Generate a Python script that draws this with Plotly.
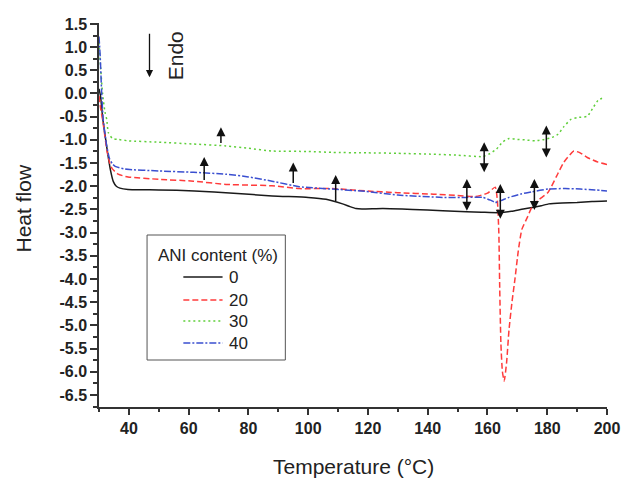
import plotly.graph_objects as go

# ---- DSC curves: heat flow vs temperature for different ANI contents ----
x_0 = [30, 30.5, 31.3, 32.7, 33.8, 34.8, 35.8, 37, 39.7, 50, 62, 75, 88, 100, 106, 111.5,
       114, 116, 118, 125, 135, 145, 153, 158, 164, 168, 172, 175, 178, 180.5, 185, 190, 195, 200]
y_0 = [0.1, -0.05, -0.56, -1.2, -1.64, -1.9, -2.0, -2.04, -2.07, -2.08, -2.10, -2.15, -2.21,
       -2.24, -2.28, -2.38, -2.44, -2.48, -2.49, -2.48, -2.5, -2.53, -2.55, -2.56, -2.57, -2.54,
       -2.49, -2.46, -2.42, -2.38, -2.36, -2.35, -2.33, -2.32]

x_20 = [30, 30.5, 31.3, 32.7, 33.6, 34.4, 36.4, 39.7, 50, 61.6, 72.5, 87.9, 97, 108, 119, 130,
        142, 150, 156, 160, 162.6, 163.3, 163.8, 164.1, 164.5, 165.0, 165.6, 166.4, 167.2,
        168.2, 169.2, 170.3, 171.5, 173.5, 174.8, 177, 180.3, 183, 185.6, 188.9, 191, 193.4,
        197, 200]
y_20 = [-0.05, -0.3, -0.6, -1.25, -1.5, -1.62, -1.74, -1.80, -1.85, -1.89, -1.96, -1.99, -2.05,
        -2.05, -2.10, -2.14, -2.17, -2.2, -2.22, -2.15, -2.02, -2.3, -3.0, -4.2, -5.4, -6.0,
        -6.2, -5.8, -5.1, -4.5, -4.0, -3.4, -2.93, -2.65, -2.46, -2.3, -2.13, -1.8, -1.48,
        -1.24, -1.28, -1.38, -1.48, -1.53]

x_30 = [30, 30.5, 31.2, 32.0, 32.6, 33.1, 34.5, 36.4, 39.7, 50, 61.6, 72.5, 80, 87.9, 100, 108,
        120, 130, 142, 150, 158.4, 160.7, 163, 165, 167.2, 170, 172.5, 176, 179, 181.5, 183.6,
        185.5, 187.9, 190, 193.4, 195.4, 197, 198.7]
y_30 = [1.1, 0.6, 0.0, -0.4, -0.56, -0.84, -0.97, -0.99, -1.02, -1.05, -1.09, -1.13, -1.18,
        -1.24, -1.25, -1.27, -1.28, -1.29, -1.31, -1.33, -1.36, -1.30, -1.2, -1.05, -0.97,
        -0.99, -1.0, -1.02, -0.99, -0.95, -0.88, -0.72, -0.56, -0.52, -0.49, -0.30, -0.15, -0.09]

x_40 = [30, 30.4, 30.9, 31.4, 32.5, 33.5, 34.5, 35.4, 38.7, 50, 61.6, 72.5, 80, 87.9, 97, 108,
        119, 130, 145, 152.8, 158.4, 161, 162.6, 164.5, 167.2, 171, 174.8, 180.3, 186, 191.1,
        196, 200]
y_40 = [1.23, 0.8, 0.0, -0.56, -1.1, -1.4, -1.52, -1.57, -1.63, -1.67, -1.70, -1.74, -1.8,
        -1.89, -2.01, -2.06, -2.11, -2.19, -2.24, -2.24, -2.24, -2.30, -2.35, -2.31, -2.24,
        -2.17, -2.12, -2.06, -2.05, -2.06, -2.08, -2.10]

series_names = ["0", "20", "30", "40"]
curve_tags = ["a", "b", "c", "d"]
tag_y = [-2.50, -1.57, -0.17, -2.13]

# transition markers: x, tail y, head y, double-headed?
arrow_x = [65.2, 70.8, 95.0, 109.2, 153.1, 158.9, 164.3, 175.7, 179.7]
arrow_y0 = [-1.90, -1.10, -1.96, -2.35, -1.81, -1.02, -1.92, -1.81, -0.66]
arrow_y1 = [-1.37, -0.73, -1.49, -1.76, -2.53, -1.70, -2.70, -2.51, -1.38]
arrow_double = [False, False, False, False, True, True, True, True, True]

y_tick_vals = [1.5, 1.0, 0.5, 0.0, -0.5, -1.0, -1.5, -2.0, -2.5, -3.0, -3.5, -4.0, -4.5,
               -5.0, -5.5, -6.0, -6.5]
y_tick_text = ["1.5", "1.0", "0.5", "0.0", "-0.5", "-1.0", "-1.5", "-2.0", "-2.5", "-3.0",
               "-3.5", "-4.0", "-4.5", "-5.0", "-5.5", "-6.0", "-6.5"]
x_tick_vals = [40, 60, 80, 100, 120, 140, 160, 180, 200]

styles = [
    dict(color="#1a1a1a", width=1.5, dash="solid"),
    dict(color="#ff3b3b", width=1.5, dash="6px,3px"),
    dict(color="#5fcf3a", width=1.5, dash="2px,3px"),
    dict(color="#3a4fd0", width=1.5, dash="7px,2px,2px,2px"),
]

W, H = 632, 478
L, R, T, B = 99, 15, 23, 71
PW, PH = W - L - R, H - T - B


def px(xp):
    return (xp - L) / PW


def py(yp):
    return (H - B - yp) / PH


fig = go.Figure()
for xs, ys, name, st in zip([x_0, x_20, x_30, x_40], [y_0, y_20, y_30, y_40], series_names, styles):
    fig.add_trace(go.Scatter(x=xs, y=ys, mode="lines", name=name, line=dict(**st, shape="spline",
                             smoothing=0.5), showlegend=False, hoverinfo="skip"))

font_main = "Liberation Sans, Arial, sans-serif"
annotations = []

# curve tags at the right edge
for tag, ty in zip(curve_tags, tag_y):
    annotations.append(dict(x=201, y=ty, xref="x", yref="y", text=tag, showarrow=False,
                            xanchor="left", yanchor="middle",
                            font=dict(family=font_main, size=17, color="#222", weight="bold")))

# transition arrows
for ax_, a0, a1, dbl in zip(arrow_x, arrow_y0, arrow_y1, arrow_double):
    annotations.append(dict(x=ax_, y=a1, ax=ax_, ay=a0, xref="x", yref="y", axref="x", ayref="y",
                            text="", showarrow=True, arrowhead=2, startarrowhead=2,
                            arrowsize=1.2, startarrowsize=1.2, arrowwidth=1.5,
                            arrowcolor="#111", arrowside="end+start" if dbl else "end"))

# endotherm direction
annotations.append(dict(x=46.9, y=0.35, ax=46.9, ay=1.32, xref="x", yref="y", axref="x",
                        ayref="y", text="", showarrow=True, arrowhead=2, arrowsize=1.1,
                        arrowwidth=1.3, arrowcolor="#111"))
annotations.append(dict(x=55.7, y=0.82, xref="x", yref="y", text="Endo", textangle=-90,
                        showarrow=False, xanchor="center", yanchor="middle",
                        font=dict(family=font_main, size=21, color="#222")))

# axis titles
annotations.append(dict(x=px(22), y=py(208), xref="paper", yref="paper", text="Heat flow",
                        textangle=-90, showarrow=False, xanchor="center", yanchor="middle",
                        font=dict(family=font_main, size=21, color="#222")))
annotations.append(dict(x=px(358), y=py(466), xref="paper", yref="paper",
                        text="Temperature (°C)", showarrow=False, xanchor="center",
                        yanchor="middle", font=dict(family=font_main, size=21, color="#222")))

# legend box
shapes = [dict(type="rect", xref="paper", yref="paper", x0=px(148), x1=px(289),
               y0=py(360), y1=py(235), line=dict(color="#555", width=1),
               fillcolor="white", layer="above")]
annotations.append(dict(x=px(157), y=py(256), xref="paper", yref="paper",
                        text="ANI content (%)", showarrow=False, xanchor="left",
                        yanchor="middle", font=dict(family=font_main, size=17, color="#222")))
legend_rows = [277, 300, 321, 343]
for name, st, ry in zip(series_names, styles, legend_rows):
    shapes.append(dict(type="line", xref="paper", yref="paper", x0=px(185), x1=px(225),
                       y0=py(ry), y1=py(ry), layer="above",
                       line=dict(color=st["color"], width=st["width"], dash=st["dash"])))
    annotations.append(dict(x=px(230), y=py(ry), xref="paper", yref="paper", text=name,
                            showarrow=False, xanchor="left", yanchor="middle",
                            font=dict(family=font_main, size=17, color="#222")))

axis_common = dict(showline=True, linecolor="#333", linewidth=1.5, ticks="outside",
                   tickcolor="#333", tickwidth=1.5, showgrid=False, zeroline=False)

fig.update_layout(
    width=W, height=H,
    margin=dict(l=L, r=R, t=T, b=B),
    paper_bgcolor="white", plot_bgcolor="white",
    xaxis=dict(range=[30, 200], tickvals=x_tick_vals, ticklen=6,
               minor=dict(ticks="outside", dtick=10, tick0=0, ticklen=3, tickcolor="#333",
                          tickwidth=1.5),
               tickfont=dict(family=font_main, size=16, color="#222", weight="bold"),
               **axis_common),
    yaxis=dict(range=[-6.76, 1.52], tickvals=y_tick_vals, ticktext=y_tick_text, ticklen=7,
               minor=dict(ticks="outside", dtick=0.25, tick0=0, ticklen=4, tickcolor="#333",
                          tickwidth=1.5),
               tickfont=dict(family=font_main, size=16, color="#222", weight="bold"),
               **axis_common),
    shapes=shapes,
    annotations=annotations,
    showlegend=False,
)

fig.write_html("out.html")
